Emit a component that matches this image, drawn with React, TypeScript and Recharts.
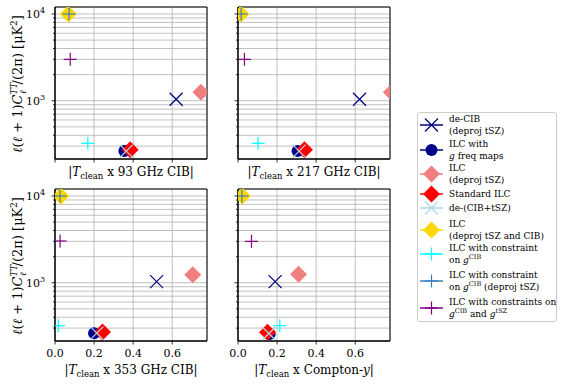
import React from "react";
import {
  CartesianGrid,
  ReferenceArea,
  Scatter,
  ScatterChart,
  XAxis,
  YAxis,
} from "recharts";

// panel order: top-left, top-right, bottom-left, bottom-right
const panelNames = ["93 GHz CIB", "217 GHz CIB", "353 GHz CIB", "Compton-"];

// one value per panel
const deCibX = [0.62, 0.622, 0.52, 0.19];
const deCibY = [1040, 1040, 1030, 1030];
const gFreqX = [0.355, 0.305, 0.2, 0.162];
const gFreqY = [263, 263, 262, 256];
const ilcTszX = [0.747, 0.785, 0.705, 0.31];
const ilcTszY = [1250, 1250, 1240, 1250];
const stdIlcX = [0.385, 0.34, 0.243, 0.151];
const stdIlcY = [272, 272, 270, 269];
const deCibTszX = [0.365, 0.313, 0.214, 0.158];
const deCibTszY = [262, 262, 262, 260];
const ilcBothX = [0.068, 0.015, 0.03, 0.022];
const ilcBothY = [10000, 10000, 10000, 10000];
const gCibX = [0.168, 0.103, 0.017, 0.214];
const gCibY = [323, 323, 320, 320];
const gCibTszX = [0.072, 0.016, 0.026, 0.02];
const gCibTszY = [10000, 10000, 10000, 10000];
const gBothX = [0.078, 0.033, 0.026, 0.069];
const gBothY = [3000, 3000, 3030, 3000];

const xTicks = [0, 0.2, 0.4, 0.6];
const yTicks = [
  300, 400, 500, 600, 700, 800, 900, 1000, 2000, 3000, 4000, 5000, 6000, 7000,
  8000, 9000, 10000,
];
const X_DOMAIN: [number, number] = [0, 0.778];
const Y_DOMAIN: [number, number] = [213, 12040];

type Kind = "x" | "circle" | "diamond" | "plus";

const series: { key: string; xs: number[]; ys: number[]; kind: Kind; color: string }[] = [
  { key: "deCib", xs: deCibX, ys: deCibY, kind: "x", color: "#000080" },
  { key: "gFreq", xs: gFreqX, ys: gFreqY, kind: "circle", color: "#00008b" },
  { key: "ilcTsz", xs: ilcTszX, ys: ilcTszY, kind: "diamond", color: "#f08080" },
  { key: "stdIlc", xs: stdIlcX, ys: stdIlcY, kind: "diamond", color: "#ff0000" },
  { key: "deCibTsz", xs: deCibTszX, ys: deCibTszY, kind: "x", color: "#add8e6" },
  { key: "ilcBoth", xs: ilcBothX, ys: ilcBothY, kind: "diamond", color: "#ffd700" },
  { key: "gCib", xs: gCibX, ys: gCibY, kind: "plus", color: "#00ffff" },
  { key: "gCibTsz", xs: gCibTszX, ys: gCibTszY, kind: "plus", color: "#3b7fb8" },
  { key: "gBoth", xs: gBothX, ys: gBothY, kind: "plus", color: "#800080" },
];

const FONT = "'DejaVu Serif', serif";

function Marker({ kind, color, cx, cy }: { kind: Kind; color: string; cx: number; cy: number }) {
  if (kind === "x") {
    const s = 6.5;
    return (
      <g stroke={color} strokeWidth={1.2}>
        <line x1={cx - s} y1={cy - s} x2={cx + s} y2={cy + s} />
        <line x1={cx - s} y1={cy + s} x2={cx + s} y2={cy - s} />
      </g>
    );
  }
  if (kind === "plus") {
    const s = 6.5;
    return (
      <g stroke={color} strokeWidth={1.2}>
        <line x1={cx - s} y1={cy} x2={cx + s} y2={cy} />
        <line x1={cx} y1={cy - s} x2={cx} y2={cy + s} />
      </g>
    );
  }
  if (kind === "circle") return <circle cx={cx} cy={cy} r={6} fill={color} />;
  const d = 8.5;
  return (
    <polygon
      points={`${cx},${cy - d} ${cx + d},${cy} ${cx},${cy + d} ${cx - d},${cy}`}
      fill={color}
    />
  );
}

const YTick = (props: any) => {
  const { x, y, payload, showLabel } = props;
  const v = payload.value;
  const major = v === 1000 || v === 10000;
  return (
    <g>
      <line x1={x} x2={x - (major ? 3.5 : 2)} y1={y} y2={y} stroke="#000" strokeWidth={0.8} />
      {showLabel && major && (
        <text x={x - 10} y={y + 4} textAnchor="end" fontFamily={FONT} fontSize={11} fill="#000">
          10
          <tspan dy={-5} fontSize={8}>
            {v === 1000 ? "3" : "4"}
          </tspan>
        </text>
      )}
    </g>
  );
};

const XTick = (props: any) => {
  const { x, y, payload, showLabel } = props;
  return (
    <g>
      <line x1={x} x2={x} y1={y} y2={y + 3.5} stroke="#000" strokeWidth={0.8} />
      {showLabel && (
        <text x={x} y={y + 16} textAnchor="middle" fontFamily={FONT} fontSize={11} fill="#000">
          {payload.value.toFixed(1)}
        </text>
      )}
    </g>
  );
};

const PW = 152;
const PH = 152;
const plots = [
  { left: 55, top: 7, showX: false, showY: true },
  { left: 238, top: 7, showX: false, showY: false },
  { left: 55, top: 189, showX: true, showY: true },
  { left: 238, top: 189, showX: true, showY: false },
];

function Panel({ index }: { index: number }) {
  const p = plots[index];
  return (
    <div style={{ position: "absolute", left: 0, top: 0 }}>
      <ScatterChart
        width={565}
        height={385}
        margin={{
          top: p.top,
          left: p.left - 40,
          right: 565 - p.left - PW,
          bottom: 385 - p.top - PH - 30,
        }}
      >
        <CartesianGrid stroke="#b0b0b0" strokeWidth={0.8} />
        <XAxis
          type="number"
          dataKey="x"
          domain={X_DOMAIN}
          ticks={xTicks}
          allowDataOverflow
          interval={0}
          height={30}
          tickSize={0}
          tickMargin={0}
          tickLine={false}
          axisLine={{ stroke: "#000" }}
          tick={<XTick showLabel={p.showX} />}
        />
        <YAxis
          type="number"
          dataKey="y"
          scale="log"
          domain={Y_DOMAIN}
          ticks={yTicks}
          allowDataOverflow
          interval={0}
          width={40}
          tickSize={0}
          tickMargin={0}
          tickLine={false}
          axisLine={{ stroke: "#000" }}
          tick={<YTick showLabel={p.showY} />}
        />
        <ReferenceArea
          x1={X_DOMAIN[0]}
          x2={X_DOMAIN[1]}
          y1={Y_DOMAIN[0]}
          y2={Y_DOMAIN[1]}
          fill="none"
          stroke="#000"
          strokeWidth={1}
          ifOverflow="visible"
        />
        {series.map((s) => (
          <Scatter
            key={s.key}
            data={[{ x: s.xs[index], y: s.ys[index] }]}
            isAnimationActive={false}
            shape={(sp: any) => <Marker kind={s.kind} color={s.color} cx={sp.cx} cy={sp.cy} />}
          />
        ))}
      </ScatterChart>
    </div>
  );
}

function XTitle({ cx, y, name, math }: { cx: number; y: number; name: string; math?: boolean }) {
  return (
    <text x={cx} y={y} textAnchor="middle" fontFamily={FONT} fontSize={12} fill="#000">
      |<tspan fontStyle="italic">T</tspan>
      <tspan dy={3} fontSize={8.5}>clean</tspan>
      <tspan dy={-3}>{" x " + name}</tspan>
      {math && <tspan fontStyle="italic">y</tspan>}|
    </text>
  );
}

function YTitle({ cy }: { cy: number }) {
  return (
    <text
      transform={`translate(22, ${cy}) rotate(-90)`}
      textAnchor="middle"
      fontFamily={FONT}
      fontSize={13}
      fill="#000"
    >
      <tspan fontStyle="italic">ℓ</tspan>(<tspan fontStyle="italic">ℓ</tspan> + 1)
      <tspan fontStyle="italic">C</tspan>
      <tspan dy={-5.5} fontSize={8.5} fontStyle="italic">TT</tspan>
      <tspan dx={-11} dy={9} fontSize={8.5} fontStyle="italic">ℓ</tspan>
      <tspan dx={6} dy={-3.5}>/(2π) [μK</tspan>
      <tspan dy={-5.5} fontSize={8.5}>2</tspan>
      <tspan dy={5.5}>]</tspan>
    </text>
  );
}

// legend rows: text lines, marker centre y
const legendRows: { lines: React.ReactNode[]; y: number }[] = [
  { lines: ["de-CIB", "(deproj tSZ)"], y: 125 },
  { lines: ["ILC with", <><tspan fontStyle="italic">g</tspan> freq maps</>], y: 150 },
  { lines: ["ILC", "(deproj tSZ)"], y: 174 },
  { lines: ["Standard ILC"], y: 194 },
  { lines: ["de-(CIB+tSZ)"], y: 208 },
  { lines: ["ILC", "(deproj tSZ and CIB)"], y: 230 },
  {
    lines: ["ILC with constraint", <>on <tspan fontStyle="italic">g</tspan><tspan dy={-4} fontSize={6.5}>CIB</tspan></>],
    y: 254,
  },
  {
    lines: [
      "ILC with constraint",
      <>on <tspan fontStyle="italic">g</tspan><tspan dy={-4} fontSize={6.5}>CIB</tspan><tspan dy={4}> (deproj tSZ)</tspan></>,
    ],
    y: 281,
  },
  {
    lines: [
      "ILC with constraints on",
      <><tspan fontStyle="italic">g</tspan><tspan dy={-4} fontSize={6.5}>CIB</tspan><tspan dy={4}> and </tspan><tspan fontStyle="italic">g</tspan><tspan dy={-4} fontSize={6.5}>tSZ</tspan></>,
    ],
    y: 308,
  },
];

function Legend() {
  return (
    <g>
      <rect x={417.5} y={112.5} width={139} height={209} rx={2.5} fill="#fff" stroke="#cccccc" strokeWidth={1} />
      {legendRows.map((row, i) => {
        const s = series[i];
        const baselines =
          row.lines.length === 1 ? [row.y + 3] : [row.y - 3.3, row.y + 9];
        return (
          <g key={s.key}>
            <line x1={420} x2={443} y1={row.y} y2={row.y} stroke={s.color} strokeWidth={1.5} />
            <Marker kind={s.kind} color={s.color} cx={431.5} cy={row.y} />
            {row.lines.map((ln, j) => (
              <text key={j} x={449} y={baselines[j]} fontFamily={FONT} fontSize={9} fill="#000">
                {ln}
              </text>
            ))}
          </g>
        );
      })}
    </g>
  );
}

export default function App() {
  return (
    <div style={{ position: "absolute", left: 0, top: 0, width: 565, height: 385, background: "#fff" }}>
      {plots.map((_, i) => (
        <Panel key={i} index={i} />
      ))}
      <svg width={565} height={385} style={{ position: "absolute", left: 0, top: 0 }}>
        <YTitle cy={84} />
        <YTitle cy={266} />
        <XTitle cx={131} y={176} name={panelNames[0]} />
        <XTitle cx={314} y={176} name={panelNames[1]} />
        <XTitle cx={131} y={374} name={panelNames[2]} />
        <XTitle cx={314} y={374} name={panelNames[3]} math />
        <Legend />
      </svg>
    </div>
  );
}
